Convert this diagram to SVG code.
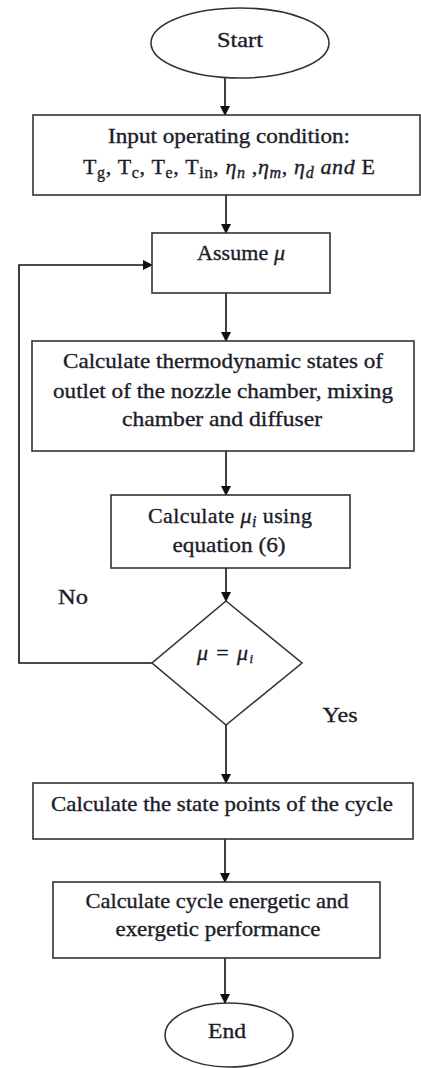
<svg xmlns="http://www.w3.org/2000/svg" width="421" height="1068" viewBox="0 0 421 1068">
<style>
.shape{fill:#fff;stroke:#333;stroke-width:1.6}
.conn{fill:none;stroke:#111;stroke-width:1.6}
text{font-family:"Liberation Serif","Times New Roman",serif;font-size:22px;fill:#1c1c2a;stroke:#1c1c2a;stroke-width:0.35;text-anchor:middle}
.sm{font-size:16px}
.it{font-style:italic}
</style>
<defs>
<marker id="ah" markerUnits="userSpaceOnUse" markerWidth="10" markerHeight="11" refX="9" refY="5" orient="auto">
<path d="M0,0 L10,5 L0,10 Z" fill="#111"/>
</marker>
</defs>
<rect width="421" height="1068" fill="#fff"/>
<g id="connectors">
<line class="conn" x1="225" y1="78" x2="225" y2="115" marker-end="url(#ah)"/>
<line class="conn" x1="226" y1="195" x2="226" y2="233" marker-end="url(#ah)"/>
<line class="conn" x1="226" y1="293" x2="226" y2="341" marker-end="url(#ah)"/>
<line class="conn" x1="226" y1="451" x2="226" y2="495" marker-end="url(#ah)"/>
<line class="conn" x1="226" y1="568" x2="226" y2="601" marker-end="url(#ah)"/>
<path class="conn" d="M152,663 H19 V265 H152" marker-end="url(#ah)"/>
<line class="conn" x1="226" y1="725" x2="226" y2="783" marker-end="url(#ah)"/>
<line class="conn" x1="225" y1="839" x2="225" y2="882" marker-end="url(#ah)"/>
<line class="conn" x1="225" y1="958" x2="225" y2="1003" marker-end="url(#ah)"/>
<text x="73" y="604" textLength="30" lengthAdjust="spacingAndGlyphs">No</text>
<text x="340" y="722" textLength="35" lengthAdjust="spacingAndGlyphs">Yes</text>
</g>
<g id="start">
<ellipse class="shape" cx="240" cy="43" rx="89" ry="35"/>
<text x="240" y="47" textLength="46" lengthAdjust="spacingAndGlyphs">Start</text>
</g>
<g id="input">
<rect class="shape" x="33" y="115" width="387" height="80"/>
<text x="229" y="143" textLength="242" lengthAdjust="spacingAndGlyphs">Input operating condition:</text>
<text x="229" y="174" textLength="292" lengthAdjust="spacing">T<tspan class="sm" baseline-shift="-4">g</tspan>, T<tspan class="sm" baseline-shift="-4">c</tspan>, T<tspan class="sm" baseline-shift="-4">e</tspan>, T<tspan class="sm" baseline-shift="-4">in</tspan>, <tspan class="it">η<tspan class="sm" baseline-shift="-4">n</tspan></tspan> ,<tspan class="it">η<tspan class="sm" baseline-shift="-4">m</tspan></tspan>, <tspan class="it">η<tspan class="sm" baseline-shift="-4">d</tspan> and</tspan> E</text>
</g>
<g id="assume">
<rect class="shape" x="152" y="233" width="178" height="60"/>
<text x="241" y="260" textLength="88" lengthAdjust="spacing">Assume <tspan class="it">μ</tspan></text>
</g>
<g id="thermo">
<rect class="shape" x="32" y="341" width="382" height="110"/>
<text x="223" y="368" textLength="320" lengthAdjust="spacingAndGlyphs">Calculate thermodynamic states of</text>
<text x="223" y="398" textLength="340" lengthAdjust="spacingAndGlyphs">outlet of the nozzle chamber, mixing</text>
<text x="222" y="426" textLength="200" lengthAdjust="spacingAndGlyphs">chamber and diffuser</text>
</g>
<g id="calcmu">
<rect class="shape" x="111" y="495" width="239" height="73"/>
<text x="230" y="523" textLength="164" lengthAdjust="spacing">Calculate <tspan class="it">μ<tspan class="sm" baseline-shift="-4">i</tspan></tspan> using</text>
<text x="229" y="552" textLength="113" lengthAdjust="spacingAndGlyphs">equation (6)</text>
</g>
<g id="decision">
<polygon class="shape" points="226,601 302,663 226,725 152,663"/>
<text x="225" y="660" font-size="18" textLength="56" lengthAdjust="spacing"><tspan class="it">μ</tspan> = <tspan class="it">μ<tspan font-size="13" baseline-shift="-3">i</tspan></tspan></text>
</g>
<g id="state">
<rect class="shape" x="33" y="783" width="380" height="56"/>
<text x="222" y="811" textLength="342" lengthAdjust="spacingAndGlyphs">Calculate the state points of the cycle</text>
</g>
<g id="perf">
<rect class="shape" x="53" y="882" width="327" height="76"/>
<text x="217" y="908" textLength="263" lengthAdjust="spacingAndGlyphs">Calculate cycle energetic and</text>
<text x="218" y="936" textLength="205" lengthAdjust="spacingAndGlyphs">exergetic performance</text>
</g>
<g id="end">
<ellipse class="shape" cx="229" cy="1035" rx="64" ry="32"/>
<text x="227" y="1038" textLength="38" lengthAdjust="spacingAndGlyphs">End</text>
</g>
</svg>
